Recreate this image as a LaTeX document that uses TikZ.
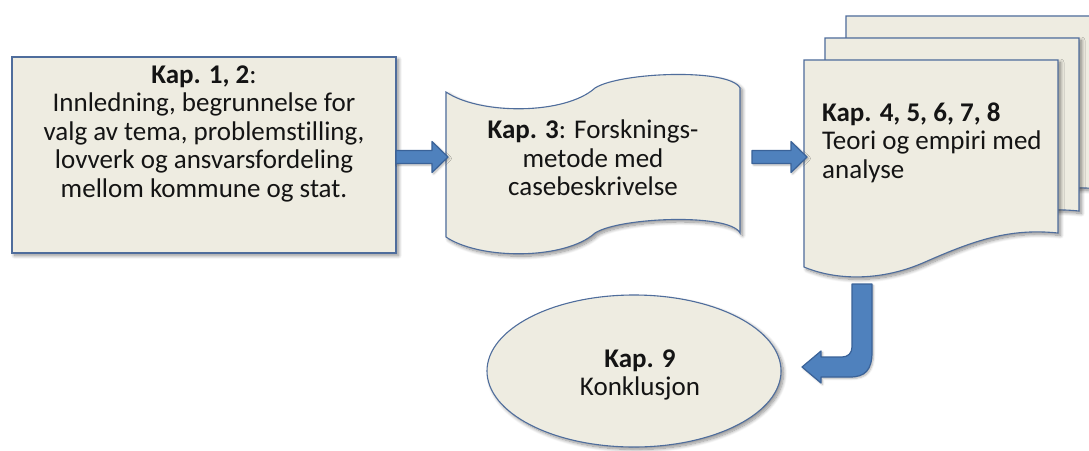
\documentclass[tikz,border=0pt]{standalone}
\usepackage{fontspec}
\setmainfont{Carlito}[Ligatures={NoCommon,NoContextual}]
\usetikzlibrary{calc,shapes.geometric,shadows.blur}

\definecolor{paper}{HTML}{EEECE1}
\definecolor{edge}{HTML}{4F6D9C}
\definecolor{arrowfill}{HTML}{4F81BD}
\definecolor{arrowedge}{HTML}{3A6298}
\definecolor{ink}{HTML}{141414}

\tikzset{
  softshadow/.style={blur shadow={shadow xshift=2.5pt,shadow yshift=-2.5pt,
      shadow blur radius=3.5pt,shadow blur steps=10,shadow opacity=45}},
  sheet/.style={fill=paper,draw=edge,line width=1.1pt,softshadow},
  frame/.style={inner sep=0pt,outer sep=0pt},
  blockarrow/.style={fill=arrowfill,draw=arrowedge,line width=1.2pt,line join=round,
      blur shadow={shadow xshift=1.5pt,shadow yshift=-1.5pt,shadow blur radius=2pt,
      shadow blur steps=6,shadow opacity=30}},
  txt/.style={font=\fontsize{27}{28.5}\selectfont,text=ink,inner sep=0pt},
}

% straight block arrow: shaft starts at x of #1, tip at #2
\newcommand\blockarrowH[2]{%
  \path[blockarrow] let \p1=(#1), \p2=(#2) in
    ({\x1},{\y2+6.5pt}) -- ({\x2-16pt},{\y2+6.5pt}) -- ({\x2-16pt},{\y2+15.5pt})
    -- ({\x2},{\y2}) -- ({\x2-16pt},{\y2-15.5pt}) -- ({\x2-16pt},{\y2-6.5pt})
    -- ({\x1},{\y2-6.5pt}) -- cycle;}

% one page of the document stack, drawn from its top left corner
\newcommand\docpage[1]{%
  \path[sheet,shift={#1}] (0,0) -- (254,0) -- (254,173)
    .. controls (206,168) and (171,180) .. (121,202)
    .. controls (76,222) and (31,220) .. (0,207) -- cycle;}

\begin{document}
\begin{tikzpicture}[x=1pt,y=-1pt]
\useasboundingbox (0,0) rectangle (1089,450);

% chapters 1-2: plain box
\node[sheet,rectangle,frame,minimum width=384pt,minimum height=196pt] (k12) at (204,155) {};
\node[txt,align=center] (k12t) at (204,133.5)
  {\textbf{Kap. 1, 2}:\\Innledning, begrunnelse for\\valg av tema, problemstilling,\\lovverk og ansvarsfordeling\\mellom kommune og stat.};

% chapter 3: punched tape
\node[frame,minimum width=294pt,minimum height=145pt] (k3) at (593,164.5) {};
\path[sheet,shift={(k3.north west)}] (0,0)
    .. controls (34,23) and (119,23) .. (149,-4)
    .. controls (174,-20) and (284,-24) .. (294,-4)
    -- (294,141)
    .. controls (284,121) and (174,125) .. (149,141)
    .. controls (119,168) and (34,168) .. (0,145) -- cycle;
\node[txt,align=center] (k3t) at (593,158)
  {\textbf{Kap. 3}: Forsknings-\\metode med\\casebeskrivelse};

% chapters 4-8: stack of documents
\node[frame,minimum width=254pt,minimum height=207pt] (k48) at (931,163.5) {};
\docpage{($(k48.north west)+(42,-44)$)}
\docpage{($(k48.north west)+(21,-22)$)}
\docpage{(k48.north west)}
\node[txt,align=left,anchor=west] (k48t) at (822,142.5)
  {\textbf{Kap. 4, 5, 6, 7, 8}\\Teori og empiri med\\analyse};

% chapter 9: conclusion
\node[sheet,ellipse,frame,minimum width=294pt,minimum height=152pt] (k9) at (634,371) {};
\node[txt,align=center] (k9t) at (640,375) {\textbf{Kap. 9}\\Konklusjon};

% connectors
\coordinate (a1tip) at ($(k3.west)+(2,-7.5)$);
\coordinate (a2start) at ($(k3.east)+(12,0)$);
\coordinate (a2tip) at ($(k48.west)+(3,-6.5)$);
\blockarrowH{k12.east}{a1tip}
\blockarrowH{a2start}{a2tip}

\coordinate (a3start) at ($(k48.south west)+(58,17)$);
\coordinate (a3tip) at ($(k9.east)+(21,-4)$);
\path[blockarrow] let \p1=(a3start), \p2=(a3tip) in
  ({\x1+10pt},{\y1}) -- ({\x1+10pt},{\y2+15pt})
  .. controls ({\x1+10pt},{\y2-3pt}) and ({\x1+3pt},{\y2-10pt}) .. ({\x1-12pt},{\y2-10pt})
  -- ({\x2+19pt},{\y2-10pt}) -- ({\x2+19pt},{\y2-16pt}) -- ({\x2},{\y2})
  -- ({\x2+19pt},{\y2+16pt}) -- ({\x2+19pt},{\y2+10pt}) -- ({\x1-20pt},{\y2+10pt})
  .. controls ({\x1-14pt},{\y2+10pt}) and ({\x1-10pt},{\y2+14pt}) .. ({\x1-10pt},{\y2+20pt})
  -- ({\x1-10pt},{\y1}) -- cycle;
\end{tikzpicture}
\end{document}
